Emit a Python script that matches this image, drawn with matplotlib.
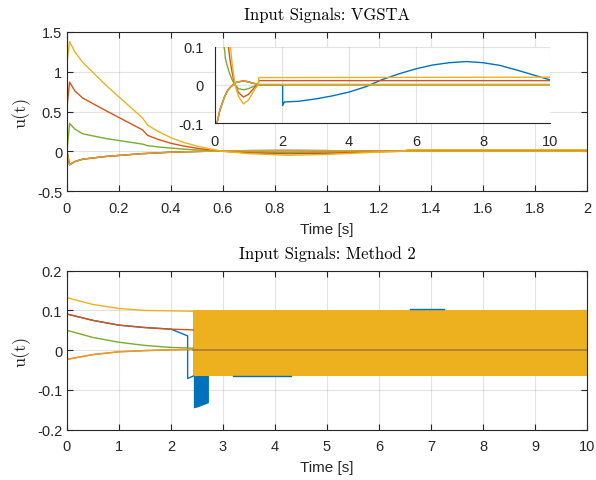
import numpy as np
import matplotlib
matplotlib.use("Agg")
import matplotlib.pyplot as plt

# ── Data ────────────────────────────────────────────────────────────────────
# VGSTA: shared time base for the four decaying inputs
t_top = [0, 0.01, 0.03, 0.06, 0.15, 0.29, 0.31, 0.35, 0.4, 0.45, 0.5, 0.55,
         0.6, 0.7, 0.85, 1.0, 1.1, 1.2, 1.29, 1.31, 10]
u_top_yellow = [1.12, 1.38, 1.25, 1.12, 0.83, 0.42, 0.33, 0.25, 0.17, 0.11,
                0.065, 0.03, 0.0, -0.03, -0.05, -0.04, -0.025, -0.01, 0.0,
                0.019, 0.02]
u_top_red = [0.56, 0.87, 0.76, 0.67, 0.51, 0.27, 0.2, 0.15, 0.1, 0.065,
             0.038, 0.016, 0.0, -0.02, -0.032, -0.025, -0.015, -0.005, 0.0,
             0.011, 0.011]
u_top_green = [0.0, 0.35, 0.28, 0.22, 0.16, 0.09, 0.07, 0.055, 0.04, 0.027,
               0.016, 0.007, 0.0, -0.01, -0.013, -0.01, -0.006, -0.003, 0.0,
               0.001, 0.001]
u_top_low = [0.0, -0.17, -0.13, -0.1, -0.065, -0.03, -0.027, -0.02, -0.012,
             -0.007, -0.003, 0.001, 0.005, 0.008, 0.01, 0.008, 0.005, 0.003,
             0.001, 0.0, 0.0]
# VGSTA: blue input (hidden under the low curve, then step + slow oscillation)
t_top_blue = [0, 0.01, 0.03, 0.06, 0.15, 0.29, 0.31, 0.35, 0.4, 0.45, 0.5,
              0.55, 0.6, 0.7, 0.85, 1.0, 1.1, 1.2, 1.29, 1.31, 2.02, 2.02,
              2.07, 2.5, 3.0, 3.5, 4.0, 4.5, 5.0, 5.5, 6.0, 6.5, 7.0, 7.5,
              8.0, 8.5, 9.0, 9.5, 10]
u_top_blue = [0.0, -0.17, -0.13, -0.1, -0.065, -0.03, -0.027, -0.02, -0.012,
              -0.007, -0.003, 0.001, 0.005, 0.008, 0.01, 0.008, 0.005, 0.003,
              0.001, 0.0, 0.0, -0.054, -0.045, -0.043, -0.037, -0.029,
              -0.019, -0.005, 0.014, 0.029, 0.042, 0.052, 0.058, 0.061,
              0.058, 0.051, 0.039, 0.026, 0.013]

# Method 2: smooth part before chattering starts
t_m2 = [0, 0.5, 1.0, 1.5, 2.0, 2.43]
u_m2_yellow = [0.132, 0.115, 0.105, 0.1, 0.099, 0.098]
u_m2_red = [0.091, 0.075, 0.063, 0.057, 0.053, 0.051]
u_m2_green = [0.05, 0.032, 0.02, 0.012, 0.007, 0.005]
u_m2_low = [-0.023, -0.011, -0.004, -0.001, 0.001, 0.002]
t_m2_blue = [0, 0.5, 1.0, 1.5, 2.0, 2.32, 2.32, 2.43]
u_m2_blue = [0.091, 0.075, 0.063, 0.057, 0.053, 0.036, -0.071, -0.065]
# Method 2: blue chattering burst (envelope)
t_blue_chat = [2.43, 2.5, 2.56, 2.62, 2.68, 2.72]
blue_chat_lo = [-0.145, -0.143, -0.14, -0.137, -0.134, -0.132]
blue_chat_hi = [-0.06, -0.06, -0.06, -0.06, -0.06, -0.06]
t_blue_low = [3.2, 4.3]
u_blue_low = [-0.066, -0.066]
t_blue_high = [6.6, 7.25]
u_blue_high = [0.104, 0.104]
# Method 2: yellow chattering band (envelope) and the zero line through it
t_band = [2.43, 10]
band_hi = [0.102, 0.102]
band_lo = [-0.065, -0.065]
t_zero = [2.43, 10]
u_zero = [0.0, 0.0]

# MATLAB default colours
C_BLUE = "#0072BD"
C_RED = "#D95319"
C_YEL = "#EDB120"
C_GRN = "#77AC30"
AX_COL = "#262626"

plt.rcParams["font.family"] = ["Liberation Sans", "DejaVu Sans"]
plt.rcParams["font.size"] = 10
SERIF = ["cmr10", "DejaVu Serif"]


def _style(ax, box=True):
    ax.grid(True, color="#262626", alpha=0.13, linewidth=0.8)
    ax.set_axisbelow(True)
    ax.tick_params(direction="in", length=4, width=0.8, colors=AX_COL,
                   labelsize=10.5, top=box, right=box)
    ax.tick_params(axis="x", pad=7)
    for s in ax.spines.values():
        s.set_color(AX_COL)
        s.set_linewidth(0.8)
    if not box:
        ax.spines["top"].set_visible(False)
        ax.spines["right"].set_visible(False)


def _top_lines(ax):
    lw = 1.0
    ax.plot(t_top_blue, u_top_blue, color=C_BLUE, lw=lw)
    ax.plot(t_top, u_top_low, color=C_RED, lw=lw)
    ax.plot(t_top, u_top_green, color=C_GRN, lw=lw)
    ax.plot(t_top, u_top_red, color=C_RED, lw=lw)
    ax.plot(t_top, u_top_yellow, color=C_YEL, lw=lw)
    ax.plot(t_top, u_top_low, color=C_YEL, lw=lw, alpha=0.8)


fig = plt.figure(figsize=(5.96, 4.81), dpi=100)

# ── Top: VGSTA ─────────────────────────────────────────────────────────────
ax1 = fig.add_axes([0.1124, 0.6008, 0.8725, 0.3306])
_top_lines(ax1)
ax1.set_xlim(0, 2)
ax1.set_ylim(-0.5, 1.5)
ax1.set_xticks(np.arange(0, 2.01, 0.2))
ax1.set_xticklabels(["0", "0.2", "0.4", "0.6", "0.8", "1", "1.2", "1.4",
                     "1.6", "1.8", "2"])
ax1.set_yticks([-0.5, 0, 0.5, 1, 1.5])
ax1.set_yticklabels(["-0.5", "0", "0.5", "1", "1.5"])
ax1.set_xlabel("Time [s]", fontsize=11, color=AX_COL, labelpad=5)
ax1.set_ylabel("u(t)", fontsize=13, color=AX_COL, labelpad=5, family=SERIF)
ax1.set_title("Input Signals: VGSTA", fontsize=12, color="black", pad=9,
              family=SERIF)
_style(ax1)

# inset: same signals over the full 10 s
axi = fig.add_axes([0.3607, 0.7422, 0.5621, 0.1587])
_top_lines(axi)
axi.set_xlim(0, 10)
axi.set_ylim(-0.1, 0.1)
axi.set_xticks([0, 2, 4, 6, 8, 10])
axi.set_yticks([-0.1, 0, 0.1])
axi.set_yticklabels(["-0.1", "0", "0.1"])
_style(axi, box=False)
axi.tick_params(length=0, pad=8)
axi.set_zorder(5)

# ── Bottom: Method 2 ───────────────────────────────────────────────────────
ax2 = fig.add_axes([0.1124, 0.1046, 0.8725, 0.3305])
lw = 1.0
ax2.plot(t_m2_blue, u_m2_blue, color=C_BLUE, lw=lw)
ax2.fill_between(t_blue_chat, blue_chat_lo, blue_chat_hi, color=C_BLUE,
                 linewidth=0)
ax2.plot(t_blue_low, u_blue_low, color=C_BLUE, lw=lw)
ax2.plot(t_blue_high, u_blue_high, color=C_BLUE, lw=lw)
ax2.plot(t_m2, u_m2_low, color=C_RED, lw=lw)
ax2.plot(t_m2, u_m2_green, color=C_GRN, lw=lw)
ax2.plot(t_m2, u_m2_red, color=C_RED, lw=lw)
ax2.plot(t_m2, u_m2_yellow, color=C_YEL, lw=lw)
ax2.plot(t_m2, u_m2_low, color=C_YEL, lw=lw, alpha=0.8)
ax2.fill_between(t_band, band_lo, band_hi, color=C_YEL, linewidth=0)
ax2.plot(t_zero, u_zero, color="#A8783A", lw=1.2)
ax2.set_xlim(0, 10)
ax2.set_ylim(-0.2, 0.2)
ax2.set_xticks(range(0, 11))
ax2.set_yticks([-0.2, -0.1, 0, 0.1, 0.2])
ax2.set_yticklabels(["-0.2", "-0.1", "0", "0.1", "0.2"])
ax2.set_xlabel("Time [s]", fontsize=11, color=AX_COL, labelpad=5)
ax2.set_ylabel("u(t)", fontsize=13, color=AX_COL, labelpad=5, family=SERIF)
ax2.set_title("Input Signals: Method 2", fontsize=12, color="black",
              pad=9, family=SERIF)
_style(ax2)

fig.savefig("out.png", dpi=100)
